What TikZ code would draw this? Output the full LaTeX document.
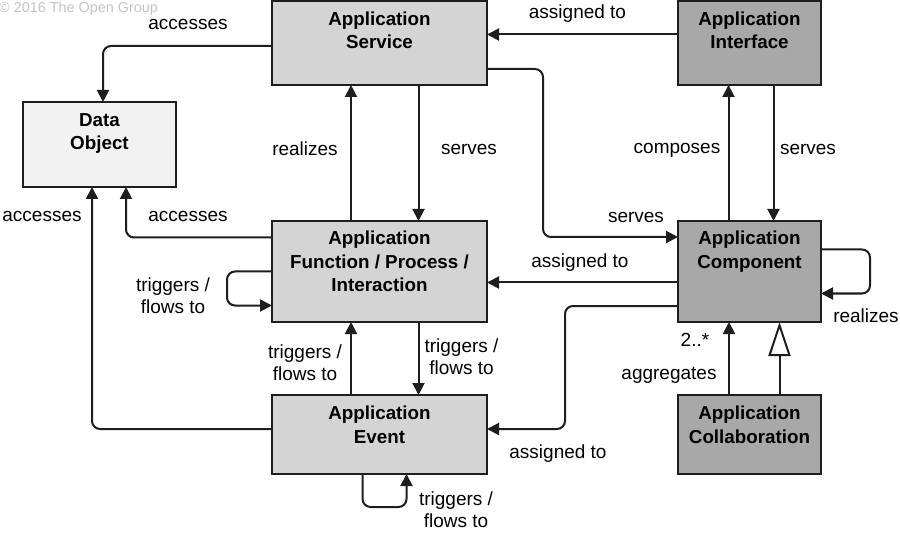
\documentclass[tikz,border=0pt]{standalone}
\usepackage{fontspec}
\setmainfont{Liberation Sans}
\usetikzlibrary{arrows.meta,calc}
\definecolor{lightbox}{HTML}{D4D4D4}
\definecolor{darkbox}{HTML}{A8A8A8}
\definecolor{objbox}{HTML}{F2F2F2}
\definecolor{linec}{HTML}{1E1E1E}
\definecolor{copyc}{HTML}{C4C4C4}
\begin{document}
\begin{tikzpicture}[x=1pt,y=-1pt,
 box/.style={draw=linec, line width=1.8pt, inner sep=0pt, outer sep=0pt},
 lbox/.style={box, fill=lightbox},
 dbox/.style={box, fill=darkbox},
 obox/.style={box, fill=objbox},
 btext/.style={anchor=north, inner sep=0pt, align=center, font=\fontsize{18.8}{23.5}\selectfont\bfseries},
 lab/.style={inner sep=0pt, align=center, font=\fontsize{19}{22}\selectfont},
 conn/.style={draw=linec, line width=2pt, -{Triangle[length=12pt,width=12pt]}, rounded corners=8pt},
 gen/.style={draw=linec, line width=2pt, -{Triangle[open,length=34pt,width=22pt,fill=white]}},
]
\useasboundingbox (0,0) rectangle (900,540);
\fill[white] (0,0) rectangle (900,540);

% boxes
\node[lbox, minimum width=215pt, minimum height=84pt] (svc) at (379.5,43) {};
\node[dbox, minimum width=143pt, minimum height=84pt] (ifc) at (749.5,43) {};
\node[obox, minimum width=153pt, minimum height=85pt] (dobj) at (99.5,144.5) {};
\node[lbox, minimum width=215pt, minimum height=101pt] (fn) at (379.5,271.5) {};
\node[dbox, minimum width=143pt, minimum height=101pt] (comp) at (749.5,271.5) {};
\node[lbox, minimum width=215pt, minimum height=79pt] (ev) at (379.5,434.5) {};
\node[dbox, minimum width=143pt, minimum height=79pt] (collab) at (749.5,434.5) {};

% box texts
\node[btext] (svct) at ([yshift=-10.5pt]svc.north) {Application\\Service};
\node[btext] (ifct) at ([yshift=-10.5pt]ifc.north) {Application\\Interface};
\node[btext] (dobjt) at ([yshift=-11pt]dobj.north) {Data\\Object};
\node[btext] (fnt) at ([yshift=-10pt]fn.north) {Application\\Function / Process /\\Interaction};
\node[btext] (compt) at ([yshift=-10pt]comp.north) {Application\\Component};
\node[btext] (evt) at ([yshift=-11pt]ev.north) {Application\\Event};
\node[btext] (collabt) at ([yshift=-11pt]collab.north) {Application\\Collaboration};

% connectors
\draw[conn] ([yshift=-3pt]svc.west) -| ([xshift=3.5pt]dobj.north);
\draw[conn] ([yshift=8.5pt]ifc.west) -- ([yshift=8.5pt]svc.east);
\draw[conn] ([yshift=-26pt]svc.east) -- ++(56,0) |- ([yshift=34.5pt]comp.west);
\draw[conn] ([xshift=-28.5pt]fn.north) -- ([xshift=-28.5pt]svc.south);
\draw[conn] ([xshift=39pt]svc.south) -- ([xshift=39pt]fn.north);
\draw[conn] ([xshift=-21pt]comp.north) -- ([xshift=-21pt]ifc.south);
\draw[conn] ([xshift=24pt]ifc.south) -- ([xshift=24pt]comp.north);
\draw[conn] ([yshift=34pt]fn.west) -| ([xshift=26.5pt]dobj.south);
\draw[conn] ([yshift=5.5pt]ev.west) -| ([xshift=-7.5pt]dobj.south);
\draw[conn] (fn.west) -- ++(-45,0) |- ([yshift=-34pt]fn.west);
\draw[conn] ([yshift=-11pt]comp.west) -- ([yshift=-11pt]fn.east);
\draw[conn] ([yshift=22pt]comp.east) -- ++(49,0) |- ([yshift=-22pt]comp.east);
\draw[conn] ([xshift=-28.5pt]ev.north) -- ([xshift=-28.5pt]fn.south);
\draw[conn] ([xshift=39pt]fn.south) -- ([xshift=39pt]ev.north);
\draw[conn] ([yshift=-34.5pt]comp.west) -- ++(-113,0) |- ([yshift=5.5pt]ev.east);
\draw[conn] ([xshift=-17pt]ev.south) -- ++(0,33) -| ([xshift=27pt]ev.south);
\draw[conn] ([xshift=-20.5pt]collab.north) -- ([xshift=-20.5pt]comp.south);
\draw[gen] ([xshift=30pt]collab.north) -- ([xshift=30pt]comp.south);

% labels
\node[lab] (l1) at (188,24) {accesses};
\node[lab] (l2) at (577.5,14) {assigned to};
\node[lab] (l3) at (305,148.5) {realizes};
\node[lab] (l4) at (469,149) {serves};
\node[lab] (l5) at (677,150) {composes};
\node[lab] (l6) at (808,149) {serves};
\node[lab] (l7) at (42,216.5) {accesses};
\node[lab] (l8) at (188,216.5) {accesses};
\node[lab] (l9) at (636,217) {serves};
\node[lab] (l10) at (173,296) {triggers /\\flows to};
\node[lab] (l11) at (580,263) {assigned to};
\node[lab] (l12) at (866,316) {realizes};
\node[lab] (l13) at (305,363) {triggers /\\flows to};
\node[lab] (l14) at (461.5,357) {triggers /\\flows to};
\node[lab] (l15) at (695,340) {2..*};
\node[lab] (l16) at (669,375) {aggregates};
\node[lab] (l17) at (558,454) {assigned to};
\node[lab] (l18) at (456,509.5) {triggers /\\flows to};
\node[anchor=west, inner sep=0pt, text=copyc, font=\fontsize{14.4}{16}\selectfont] (copy) at (-1,9) {© 2016 The Open Group};
\end{tikzpicture}
\end{document}
